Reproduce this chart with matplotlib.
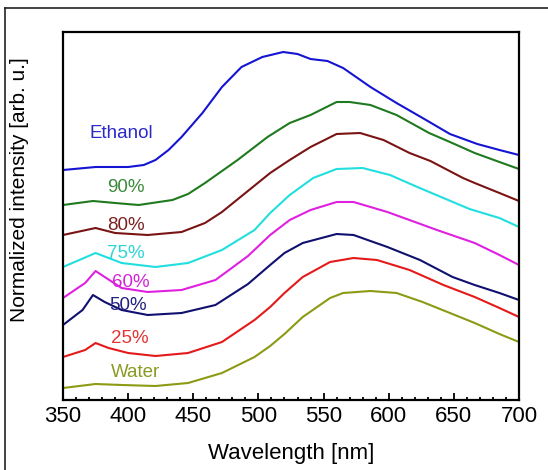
import matplotlib
matplotlib.use("Agg")
import matplotlib.pyplot as plt
from matplotlib.lines import Line2D
from matplotlib.ticker import MultipleLocator

plt.rcParams["font.family"] = ["Liberation Sans", "DejaVu Sans"]

# emission spectra (wavelength in nm, intensity in arb. u.)
ethanol_wl = [350, 375, 400, 412, 421, 431, 441, 457, 472, 487, 503, 519, 530, 540, 553, 565, 586, 606, 626, 647, 668, 685, 700]
ethanol_int = [230, 233, 233, 235, 240, 250, 263, 287, 313, 333, 343, 348, 346, 341, 339, 332, 313, 297, 282, 266, 256, 250, 245]

p90_wl = [350, 373, 390, 408, 434, 446, 459, 484, 507, 524, 540, 560, 570, 586, 606, 631, 647, 666, 685, 700]
p90_int = [195, 199, 197, 195, 200, 206, 217, 240, 263, 277, 285, 298, 298, 295, 285, 267, 258, 247, 238, 231]

p80_wl = [350, 375, 390, 415, 441, 459, 472, 490, 509, 524, 540, 560, 578, 596, 616, 632, 657, 666, 685, 700]
p80_int = [165, 172, 167, 165, 168, 177, 188, 207, 227, 240, 253, 266, 267, 260, 247, 239, 222, 217, 207, 199]

p75_wl = [350, 375, 395, 421, 446, 472, 497, 509, 524, 542, 560, 580, 601, 622, 642, 662, 685, 700]
p75_int = [133, 147, 137, 133, 137, 150, 170, 187, 205, 222, 231, 232, 225, 213, 202, 191, 182, 173]

p60_wl = [350, 367, 375, 382, 395, 415, 441, 467, 492, 509, 524, 540, 560, 573, 599, 637, 666, 685, 700]
p60_int = [102, 117, 129, 123, 112, 108, 110, 120, 144, 165, 180, 190, 198, 198, 188, 170, 157, 145, 135]

p50_wl = [350, 365, 373, 382, 395, 415, 441, 467, 492, 509, 520, 534, 560, 573, 599, 624, 649, 666, 685, 700]
p50_int = [75, 90, 105, 98, 90, 85, 87, 95, 116, 135, 147, 157, 166, 165, 153, 140, 123, 115, 107, 100]

p25_wl = [350, 367, 375, 385, 400, 421, 446, 472, 497, 509, 520, 534, 555, 573, 591, 616, 642, 666, 685, 700]
p25_int = [43, 50, 57, 52, 47, 44, 47, 58, 80, 93, 107, 123, 138, 142, 140, 130, 115, 103, 92, 83]

water_wl = [350, 375, 395, 421, 446, 472, 497, 509, 520, 534, 555, 565, 586, 606, 626, 647, 666, 685, 700]
water_int = [12, 16, 15, 14, 17, 27, 43, 54, 66, 83, 102, 107, 109, 107, 98, 87, 77, 66, 58]

names = ["Ethanol", "90%", "80%", "75%", "60%", "50%", "25%", "Water"]
wls = [ethanol_wl, p90_wl, p80_wl, p75_wl, p60_wl, p50_wl, p25_wl, water_wl]
ints = [ethanol_int, p90_int, p80_int, p75_int, p60_int, p50_int, p25_int, water_int]
line_colors = ["#1414d2", "#1f7a1f", "#7a1414", "#22dede", "#e020e0", "#10106e", "#e41a1a", "#8c9a14"]
text_colors = ["#2a2ac8", "#3a8a3a", "#7e2020", "#30d4d4", "#d424d4", "#222280", "#e43434", "#8c9a24"]

# label anchors (baseline) next to each curve
label_x = [395, 398, 398, 398, 402, 400, 401, 406]
label_y = [262, 208, 170, 142, 113, 90, 57, 23]

fig = plt.figure(figsize=(5.48, 4.70), dpi=100)
ax = fig.add_axes([63 / 548, 1 - 400 / 470, 456 / 548, 368 / 470])

for wl, it, c in zip(wls, ints, line_colors):
    ax.plot(wl, it, color=c, lw=1.5, solid_joinstyle="round")

for name, tx, ty, c in zip(names, label_x, label_y, text_colors):
    ax.text(tx, ty, name, color=c, fontsize=13.5, ha="center", va="baseline")

ax.set_xlim(350, 700)
ax.set_ylim(0, 368)
ax.xaxis.set_major_locator(MultipleLocator(50))
ax.xaxis.set_minor_locator(MultipleLocator(10))
ax.tick_params(axis="x", which="major", direction="in", length=5, width=1.3,
               labelsize=16, pad=4, top=False)
ax.tick_params(axis="x", which="minor", direction="in", length=2.5, width=1.3, top=False)
ax.set_yticks([])
for sp in ax.spines.values():
    sp.set_linewidth(1.6)

ax.set_xlabel("Wavelength [nm]", fontsize=16)
ax.xaxis.set_label_coords(0.5, -0.117)
ax.xaxis.label.set_va("top")
ax.set_ylabel("Normalized intensity [arb. u.]", fontsize=15)
ax.yaxis.set_label_coords(-0.075, 0.571)

# outer frame (top and left edges visible)
fig.add_artist(Line2D([5 / 548, 1], [1 - 8 / 470, 1 - 8 / 470], color="#222222", lw=1.2,
                      transform=fig.transFigure))
fig.add_artist(Line2D([5 / 548, 5 / 548], [0, 1 - 8 / 470], color="#222222", lw=1.2,
                      transform=fig.transFigure))

fig.savefig("out.png", dpi=100)
